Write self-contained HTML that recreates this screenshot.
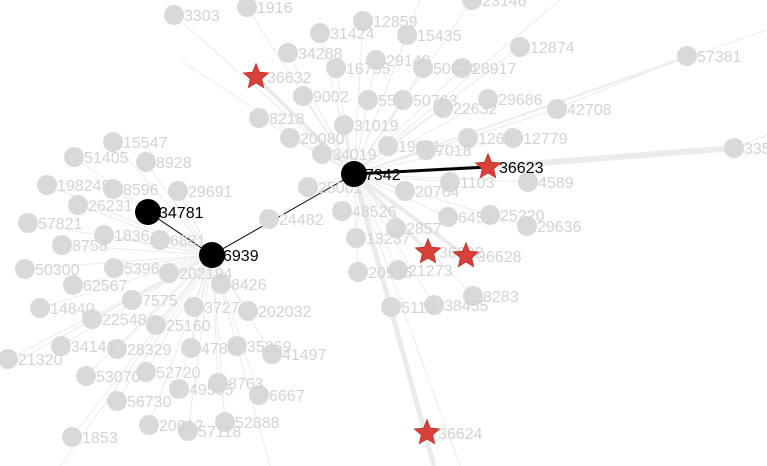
<!DOCTYPE html>
<html><head><meta charset="utf-8"><style>
html,body{margin:0;padding:0;background:#fff;overflow:hidden}
svg{display:block}
text{font-family:"Liberation Sans",Arial,sans-serif;font-size:16px}
</style></head><body>
<svg id="g" width="767" height="466"></svg>
<script>
const labels=["15547","51405","8928","198249","8596","29691","26231","57821","1836","8758","6881","50300","5396","202194","62567","8426","7575","14840","22548","3727","202032","25160","34141","28329","4789","35369","41497","21320","53070","52720","49505","8763","6667","56730","20012","57118","52888","1853",
"1916","3303","12859","31424","15435","23146","12874","57381","34288","29140","16755","50024","28917","9002","55","50763","22632","29686","42708","8218","31019","20080","1268","12779","19011","7018","34019","335","25001","1103","4589","20764","24482","48526","6451","25220","29636","2857","13237","20526","21273","8283","5113","38455"];
const xs=[113,74,146,47,113,178,78,28,104,62,160,25,114,169,73,221,132,40,92,194,248,156,61,117,191,237,272,8,86,146,179,218,259,117,149,188,225,72,
247,174,363,320,407,472,520,687,288,376,336,423,462,303,368,403,443,488,557,259,344,290,468,513,388,426,322,734,308,450,528,405,269,342,448,490,527,396,356,358,398,473,391,434];
const ys=[142,157,162,185,189,191,205,223,235,245,240,269,268,273,285,284,300,308,319,307,311,325,346,349,348,346,354,359,376,372,389,383,395,401,425,431,422,437,
7,15,21,33,35,0,47,56,53,60,68,68,68,96,100,100,108,99,109,118,125,138,138,138,146,150,154,148,187,182,182,191,219,211,217,215,226,228,238,272,270,296,307,305];
const hubOf=[0,0,0,0,0,0,0,0,0,0,0,0,0,0,0,0,0,0,0,0,0,0,0,0,0,0,0,0,0,0,0,0,0,0,0,0,0,0,
1,1,1,1,1,1,1,1,1,1,1,1,1,1,1,1,1,1,1,1,1,1,1,1,1,1,1,1,1,1,1,1,1,1,1,1,1,1,1,1,1,1,1,1];
const hubLabels=["6939","7342","34781"];
const hubX=[212,354,148],hubY=[255,174,212];
const starLabels=["36632","36623","36622","36628","36624"];
const starX=[256,488,428,466,427],starY=[77,167,252,256,433];
const NS="http://www.w3.org/2000/svg",svg=document.getElementById('g');
function mk(t,a,p){const e=document.createElementNS(NS,t);for(const k in a)e.setAttribute(k,a[k]);(p||svg).appendChild(e);return e;}
const eg=mk('g',{});


for(let i=0;i<labels.length;i++){const h=hubOf[i];
 const l=mk('line',{x1:hubX[h],y1:hubY[h],x2:xs[i],y2:ys[i],stroke:'#ebebeb','stroke-width':1},eg);
 
 }
const extra=[[556,109,687,56,1],[734,148,767,135,1],[488,167,734,148,6],[354,174,434,466,5],[354,174,460,466,1],[212,255,270,466,1],[212,255,0,370,1],[212,255,60,466,1],[354,174,256,77,4],[354,174,428,252,4],[354,174,466,256,4],[354,174,180,60,1],[354,174,420,0,1],[354,174,560,0,1],[354,174,767,30,1]];
extra.forEach(e=>{const l=mk('line',{x1:e[0],y1:e[1],x2:e[2],y2:e[3],stroke:'#ebebeb','stroke-width':e[4]},eg);
 
 });
[[148,212,212,255,1],[212,255,354,174,1],[354,174,488,167,3]].forEach(e=>{const l=mk('line',{x1:e[0],y1:e[1],x2:e[2],y2:e[3],stroke:'#000','stroke-width':e[4]},eg);
 
 });
for(let i=0;i<labels.length;i++){
 const c=mk('circle',{cx:xs[i],cy:ys[i],r:10,fill:'#d9d9d7'});
 
 }
for(let i=0;i<labels.length;i++){
 const t=mk('text',{x:xs[i]+10,y:ys[i]+6,fill:'#d3d3d3'});t.textContent=labels[i];
 
 }
function star(cx,cy,R){let p=[];for(let k=0;k<10;k++){const r=k%2?R*0.45:R,a=-Math.PI/2+k*Math.PI/5;p.push((cx+r*Math.cos(a)).toFixed(1)+','+(cy+r*Math.sin(a)).toFixed(1));}return p.join(' ');}
for(let i=0;i<starLabels.length;i++){
 const s=mk('polygon',{points:star(starX[i],starY[i],13),fill:'#d8413a',stroke:'#c4352f','stroke-width':1});
 
 
 const t=mk('text',{x:starX[i]+11,y:starY[i]+6,fill:i==1?'#000':'#d3d3d3'});t.textContent=starLabels[i];
 
 }
for(let i=0;i<hubLabels.length;i++){
 const c=mk('circle',{cx:hubX[i],cy:hubY[i],r:13,fill:'#000'});
 
 
 const t=mk('text',{x:hubX[i]+11,y:hubY[i]+6,fill:'#000'});t.textContent=hubLabels[i];
 
 }
</script>
</body></html>
